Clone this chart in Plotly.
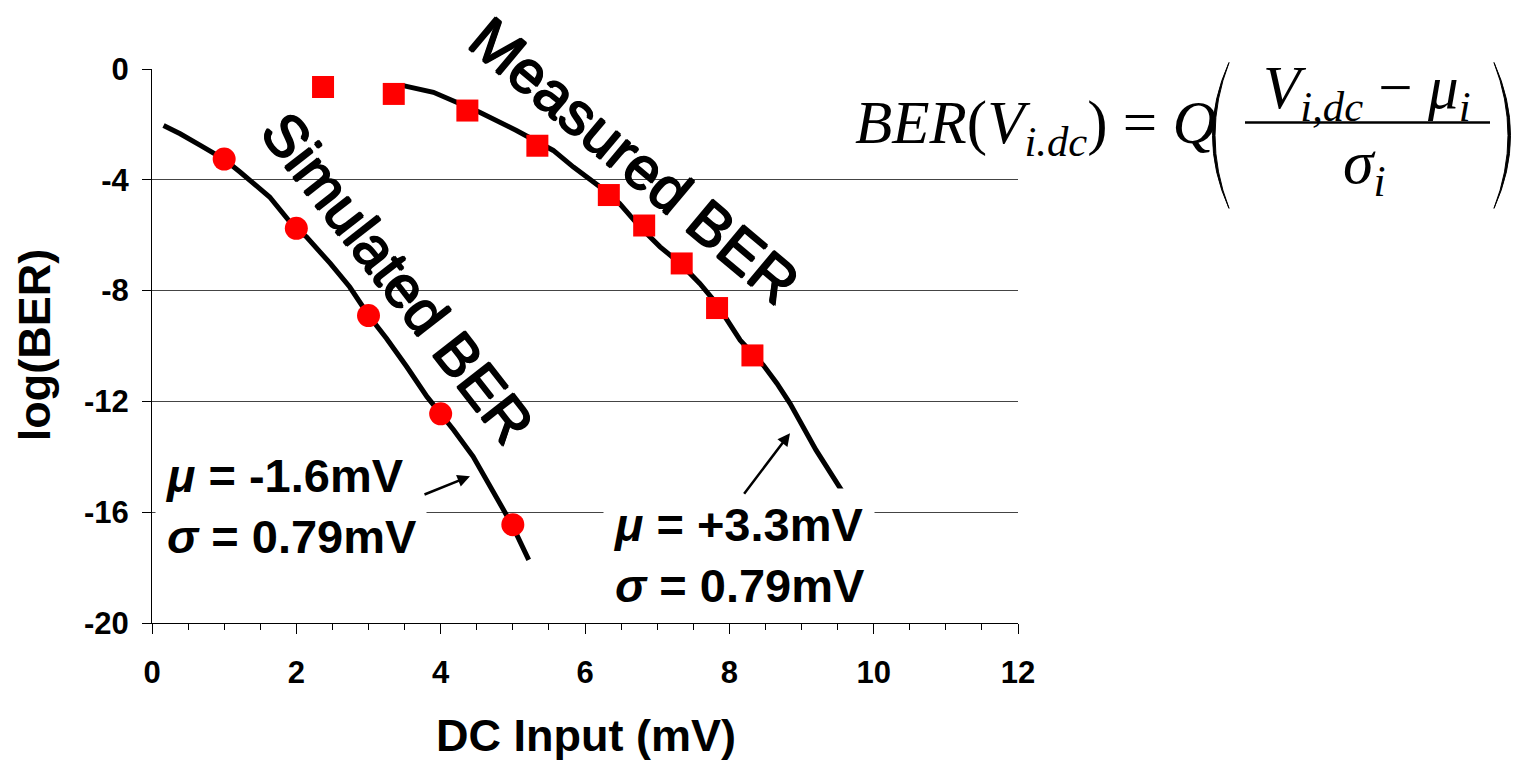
import plotly.graph_objects as go

# ---- data ----
sim_x = [1, 2, 3, 4, 5]
sim_y = [-3.25, -5.75, -8.9, -12.45, -16.45]

meas_x = [2.37, 3.35, 4.37, 5.34, 6.33, 6.82, 7.34, 7.83, 8.32]
meas_y = [-0.65, -0.9, -1.5, -2.77, -4.55, -5.65, -7.02, -8.63, -10.34]

sim_fit_x = [0.16, 0.39, 0.67, 1.0, 1.22, 1.63, 1.98, 2.14, 2.47, 2.74, 3.0, 3.25, 3.53,
             3.81, 4.18, 4.45, 4.99, 5.22]
sim_fit_y = [-2.04, -2.34, -2.76, -3.26, -3.72, -4.62, -5.74, -6.06, -7.02, -7.87, -8.89,
             -9.73, -10.75, -11.83, -13.03, -13.99, -16.46, -17.72]

meas_fit_x = [3.48, 3.71, 3.9, 4.54, 5.05, 5.56, 5.84, 6.21, 6.48, 6.76, 7.04, 7.32, 7.59,
              7.82, 8.15, 8.47, 8.66, 8.84, 9.2, 9.58]
meas_fit_y = [-0.6, -0.71, -0.84, -1.56, -2.22, -2.94, -3.54, -4.26, -4.86, -5.70, -6.42,
              -7.02, -7.74, -8.46, -9.79, -10.69, -11.35, -12.07, -13.75, -15.31]

x_ticks = [0, 2, 4, 6, 8, 10, 12]
y_ticks = [-20, -16, -12, -8, -4, 0]

W, H = 1535, 760
L, R, T, B = 152, 1018, 68.5, 623
SANS = "Arial, Liberation Sans, sans-serif"
SERIF = "Times New Roman, Liberation Serif, serif"
THICK = "1px 0 0 black, -1px 0 0 black, 0 1px 0 black, 0 -1px 0 black"


def px(x):
    return (x - L) / (R - L)


def py(y):
    return (B - y) / (B - T)


fig = go.Figure()
fig.add_trace(go.Scatter(x=sim_fit_x, y=sim_fit_y, mode="lines",
                         line=dict(color="black", width=5), showlegend=False))
fig.add_trace(go.Scatter(x=meas_fit_x, y=meas_fit_y, mode="lines",
                         line=dict(color="black", width=5), showlegend=False))
fig.add_trace(go.Scatter(x=sim_x, y=sim_y, mode="markers",
                         marker=dict(symbol="circle", size=23, color="#ff0000"),
                         showlegend=False))
fig.add_trace(go.Scatter(x=meas_x, y=meas_y, mode="markers",
                         marker=dict(symbol="square", size=22, color="#ff0000"),
                         showlegend=False))


def txt(x, y, text, size, family=SANS, angle=0, xa="center", ya="middle", weight=None,
        shadow=None, **kw):
    f = dict(family=family, size=size, color="black")
    if weight:
        f["weight"] = weight
    if shadow:
        f["shadow"] = shadow
    d = dict(x=px(x), y=py(y), xref="paper", yref="paper", text=text, textangle=angle,
             xanchor=xa, yanchor=ya, showarrow=False, font=f)
    d.update(kw)
    return d


ann = []
# rotated curve labels
ann.append(txt(397, 278, "Simulated BER", 59, angle=52, shadow=THICK))
ann.append(txt(634, 160, "Measured BER", 60, angle=40, shadow=THICK))

# parameter boxes
ann.append(txt(155, 506, "<b><i>μ</i> = -1.6mV<br><i>σ</i> = 0.79mV</b>", 47, xa="left",
               align="left", bgcolor="white", borderpad=9))
ann.append(txt(603, 555, "<b><i>μ</i> = +3.3mV<br><i>σ</i> = 0.79mV</b>", 47, xa="left",
               align="left", bgcolor="white", borderpad=9))
# arrows
ann.append(dict(x=px(470), y=py(476), xref="paper", yref="paper", text="", showarrow=True,
                ax=-47, ay=19, arrowhead=2, arrowsize=1, arrowwidth=2.5, arrowcolor="black"))
ann.append(dict(x=px(790), y=py(433), xref="paper", yref="paper", text="", showarrow=True,
                ax=-47, ay=62, arrowhead=2, arrowsize=1, arrowwidth=2.5, arrowcolor="black"))

# axis titles
ann.append(txt(586, 736, "<b>DC Input (mV)</b>", 45))
ann.append(txt(34, 345, "<b>log(BER)</b>", 45, angle=-90))

# formula
ann.append(txt(853, 127, "<i>BER</i>(<i>V</i><sub><i>i.dc</i></sub>) = <i>Q</i>", 61,
               family=SERIF, xa="left"))
ann.append(txt(1367, 92, "<i>V</i><sub><i>i,dc</i></sub> − <i>μ</i><sub><i>i</i></sub>", 61,
               family=SERIF))
ann.append(txt(1364, 166, "<i>σ</i><sub><i>i</i></sub>", 62, family=SERIF))

shapes = []
shapes.append(dict(type="line", xref="paper", yref="paper", x0=px(1245), x1=px(1490),
                   y0=py(122), y1=py(122), line=dict(color="black", width=2.5)))


def paren(x_end, x_mid, y0, y1, thick):
    ym = (y0 + y1) / 2
    return (f"M {px(x_end)},{py(y0)} Q {px(x_mid)},{py(ym)} {px(x_end)},{py(y1)} "
            f"Q {px(x_mid + thick)},{py(ym)} {px(x_end)},{py(y0)} Z")


shapes.append(dict(type="path", xref="paper", yref="paper",
                   path=paren(1229, 1196, 62, 208, 5), fillcolor="black",
                   line=dict(color="black", width=1)))
shapes.append(dict(type="path", xref="paper", yref="paper",
                   path=paren(1494, 1527, 62, 208, -5), fillcolor="black",
                   line=dict(color="black", width=1)))

fig.update_layout(
    width=W, height=H, autosize=False,
    margin=dict(l=L, r=W - R, t=T, b=H - B, pad=0),
    plot_bgcolor="white", paper_bgcolor="white",
    annotations=ann, shapes=shapes, showlegend=False,
    xaxis=dict(range=[0, 12], tickvals=x_ticks, ticktext=[str(v) for v in x_ticks],
               ticks="outside", ticklen=10, tickwidth=1, tickcolor="black",
               showline=True, linecolor="black", linewidth=1, showgrid=False, zeroline=False,
               minor=dict(dtick=0.5, tick0=0, ticks="outside", ticklen=6, tickcolor="black",
                          showgrid=False),
               tickfont=dict(family=SANS, size=31, color="black", weight="bold"),
               ticklabelstandoff=12),
    yaxis=dict(range=[-20, 0], tickvals=y_ticks, ticktext=[str(v) for v in y_ticks],
               ticks="outside", ticklen=9, tickwidth=1, tickcolor="black",
               showline=True, linecolor="black", linewidth=1, showgrid=True,
               gridcolor="#444", gridwidth=1, zeroline=False,
               tickfont=dict(family=SANS, size=31, color="black", weight="bold"),
               ticklabelstandoff=7),
)

fig.write_html("out.html")
